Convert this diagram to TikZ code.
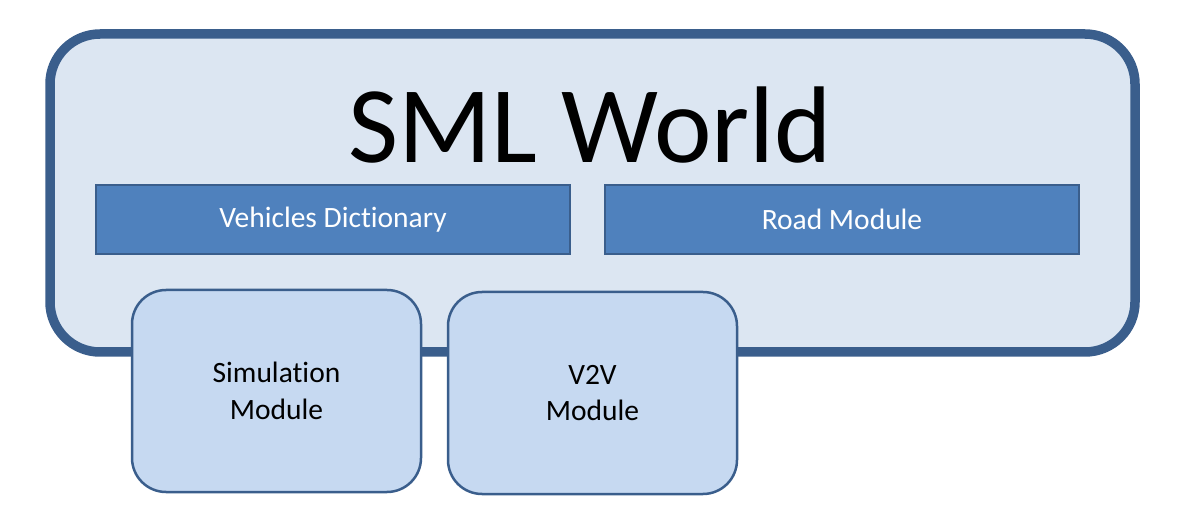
\documentclass[tikz,border=0pt]{standalone}
\usepackage{fontspec}
\setmainfont[Ligatures=NoCommon]{Carlito}
\usetikzlibrary{positioning}

\definecolor{edgeblue}{HTML}{3A5E8C}
\definecolor{worldfill}{HTML}{DCE6F2}
\definecolor{barfill}{HTML}{4F81BD}
\definecolor{modfill}{HTML}{C6D9F1}

\tikzset{
  worldbox/.style={draw=edgeblue, fill=worldfill, line width=9.5pt, rectangle, rounded corners=50pt, minimum width=1085pt, minimum height=318pt, outer sep=0pt},
  barbox/.style={draw=edgeblue, fill=barfill, line width=2pt, rectangle, minimum width=474pt, minimum height=69pt, outer sep=0pt, text=white, font=\fontsize{29.5}{35}\selectfont},
  modbox/.style={draw=edgeblue, fill=modfill, line width=2.5pt, rectangle, rounded corners=34pt, minimum width=289pt, minimum height=202pt, outer sep=0pt, align=center, font=\fontsize{29.5}{36.5}\selectfont}
}

\begin{document}
\begin{tikzpicture}[x=1pt, y=-1pt]
            \useasboundingbox (0,0) rectangle (1178,518);
            \node[worldbox] (world) at (592.5,193) {};
            \node[anchor=base, font=\fontsize{109}{120}\selectfont] (title) at (590,163) {SML World};
            \node[barbox] (vehicles) at (333,219.5) {Vehicles Dictionary};
            \node[barbox, right=35pt of vehicles] (road) {Road Module};
            \node[modbox] (sim) at (276.5,391) {Simulation\\Module};
            \node[modbox, right=27pt of sim, yshift=-2pt] (vtov) {V2V\\Module};
        \end{tikzpicture}
\end{document}
